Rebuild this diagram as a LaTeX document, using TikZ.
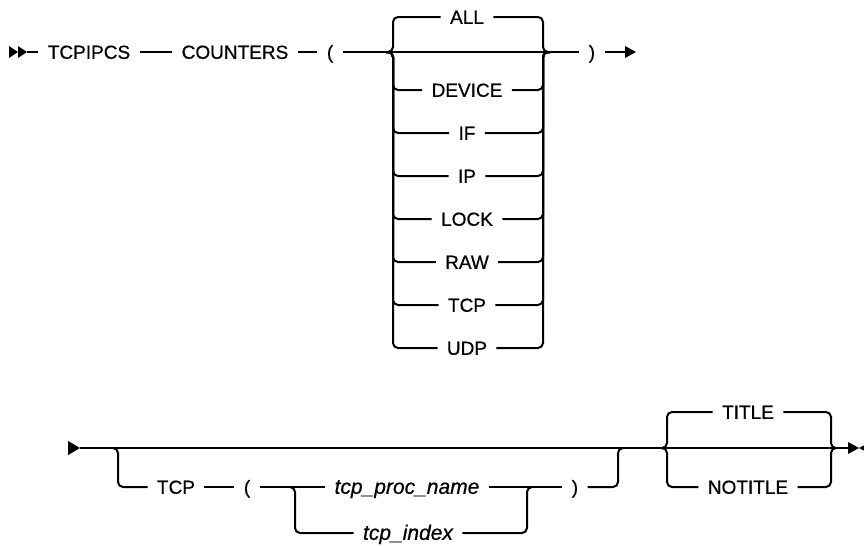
\documentclass[tikz,border=0pt]{standalone}
\usepackage{fontspec}
\setmainfont{Liberation Sans}[FakeBold=0.6]
\usetikzlibrary{calc}
\newcommand{\railfont}{\fontsize{9.5pt}{11pt}\selectfont}
\newcommand{\varfont}{\fontsize{10.5pt}{12pt}\selectfont\itshape}

\begin{document}
\begin{tikzpicture}[x=0.5pt,y=-0.5pt,
        kw/.style={font=\railfont, inner xsep=4.5pt, inner ysep=0pt, text height=6.8pt, text depth=0pt},
        var/.style={kw, font=\varfont},
        rail/.style={line width=1pt, rounded corners=2.5pt},
        tip/.style={fill=black},
        ]
        \useasboundingbox (0,0) rectangle (864,546);

        % first line
        \coordinate (start1) at (27,52);
        \node (tcpipcs) at (89,52) [kw] {TCPIPCS};
        \node (counters) at (235,52) [kw] {COUNTERS};
        \node (lpar1) at (330,52) [kw] {(};
        \coordinate (sel1l) at (386,52);
        \coordinate (sel1r) at (550,52);
        \node (all) at (467,17) [kw] {ALL};
        \foreach \name [count=\i] in {DEVICE,IF,IP,LOCK,RAW,TCP,UDP}
            \node (opt\i) at (467,47+43*\i) [kw] {\name};
        \node (rpar1) at (592,52) [kw] {)};
        \coordinate (end1) at (625,52);

        \fill[tip] (9,46) -- (18,52) -- (9,58) -- cycle;
        \fill[tip] (18,46) -- (27,52) -- (18,58) -- cycle;
        \draw[rail] (start1) -- (tcpipcs) -- (counters) -- (lpar1) -- (sel1l) -- (sel1r) -- (rpar1) -- (end1);
        \fill[tip] (end1) ++(0,-6) -- ++(11,6) -- ++(-11,6) -- cycle;

        \draw[rail] (sel1l) -- ++(7,0) |- (all);
        \draw[rail] (all) -| ([xshift=-3.5pt]sel1r) -- (sel1r);
        \foreach \i in {1,...,7} {
            \draw[rail] (sel1l) -- ++(7,0) |- (opt\i);
            \draw[rail] (opt\i) -| ([xshift=-3.5pt]sel1r) -- (sel1r);
        }

        % second line
        \coordinate (start2) at (80,448);
        \coordinate (opt2l) at (113,448);
        \node (tcp2) at (176,487) [kw] {TCP};
        \node (lpar2) at (247,487) [kw] {(};
        \coordinate (sel2l) at (290,487);
        \node (procname) at (407,487) [var] {tcp\_proc\_name};
        \node (index) at (408,533) [var] {tcp\_index};
        \coordinate (sel2r) at (532,487);
        \node (rpar2) at (575,487) [kw] {)};
        \coordinate (opt2r) at (623,448);
        \coordinate (sel3l) at (661,448);
        \node (title) at (748,412) [kw] {TITLE};
        \node (notitle) at (748,487) [kw] {NOTITLE};
        \coordinate (sel3r) at (836,448);
        \coordinate (end2) at (848,448);

        \fill[tip] (68,441) -- (start2) -- (68,455) -- cycle;
        \draw[rail] (start2) -- (opt2l) -- (opt2r) -- (sel3l) -- (sel3r) -- (end2);
        \fill[tip] (end2) ++(0,-6) -- ++(11,6) -- ++(-11,6) -- cycle;
        \fill[tip] (end2) ++(22,-6) -- ++(-11,6) -- ++(11,6) -- cycle;

        \draw[rail] (opt2l) -- ++(5,0) |- (tcp2);
        \draw[rail] (tcp2) -- (lpar2) -- (procname);
        \draw[rail] (sel2l) -- ++(5,0) |- (index);
        \draw[rail] (procname) -- (rpar2);
        \draw[rail] (index) -| ([xshift=-2.5pt]sel2r) -- (sel2r);
        \draw[rail] (rpar2) -| ([xshift=-2.5pt]opt2r) -- (opt2r);

        \draw[rail] (sel3l) -- ++(6,0) |- (title);
        \draw[rail] (sel3l) -- ++(6,0) |- (notitle);
        \draw[rail] (title) -| ([xshift=-2.5pt]sel3r) -- (sel3r);
        \draw[rail] (notitle) -| ([xshift=-2.5pt]sel3r) -- (sel3r);
    \end{tikzpicture}
\end{document}
